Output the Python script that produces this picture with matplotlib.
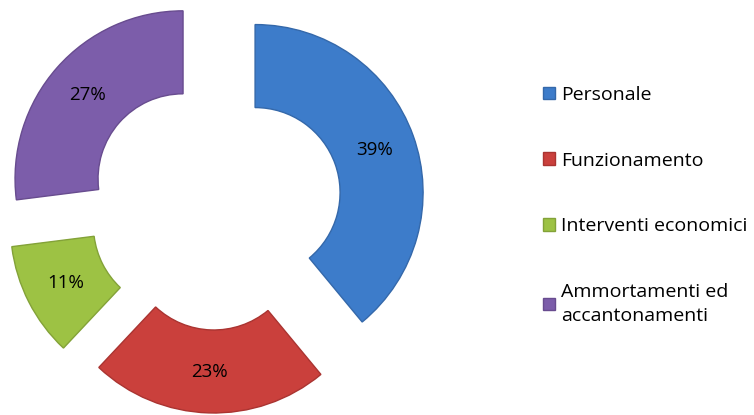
import matplotlib
matplotlib.use("Agg")
import matplotlib.pyplot as plt

categories = ["Personale", "Funzionamento", "Interventi economici", "Ammortamenti ed\naccantonamenti"]
values = [39, 23, 11, 27]
colors = ["#3D7CCA", "#CA403C", "#9DC244", "#7C5DAA"]
edges = ["#3468AA", "#AA3431", "#83A238", "#684C8F"]
explode = [42.6, 38, 41, 42.6]

plt.rcParams['font.family'] = ['Open Sans', 'DejaVu Sans']

fig = plt.figure(figsize=(7.54, 4.15), dpi=100)
ax = fig.add_axes([0, 0, 1, 1])

wedges, texts, autotexts = ax.pie(
    values,
    explode=explode,
    radius=168,
    center=(215, 208),
    startangle=90,
    counterclock=False,
    colors=colors,
    wedgeprops=dict(width=83, linewidth=1.0),
    autopct='%.0f%%',
    pctdistance=0.755,
    textprops=dict(fontsize=13.5, color='black'),
)
for w, ec in zip(wedges, edges):
    w.set_edgecolor(ec)

ax.set_xlim(0, 754)
ax.set_ylim(0, 415)
ax.set_aspect('equal')
ax.axis('off')

leg = ax.legend(
    wedges, categories,
    loc='upper left',
    bbox_to_anchor=(543 / 754, 1 - 86 / 415),
    bbox_transform=fig.transFigure,
    frameon=False,
    fontsize=14,
    handlelength=0.62,
    handleheight=0.62,
    handletextpad=0.3,
    labelspacing=2.45,
    borderpad=0,
    borderaxespad=0,
)
leg.get_texts()[3].set_linespacing(1.4)

fig.savefig("out.png", dpi=100)
